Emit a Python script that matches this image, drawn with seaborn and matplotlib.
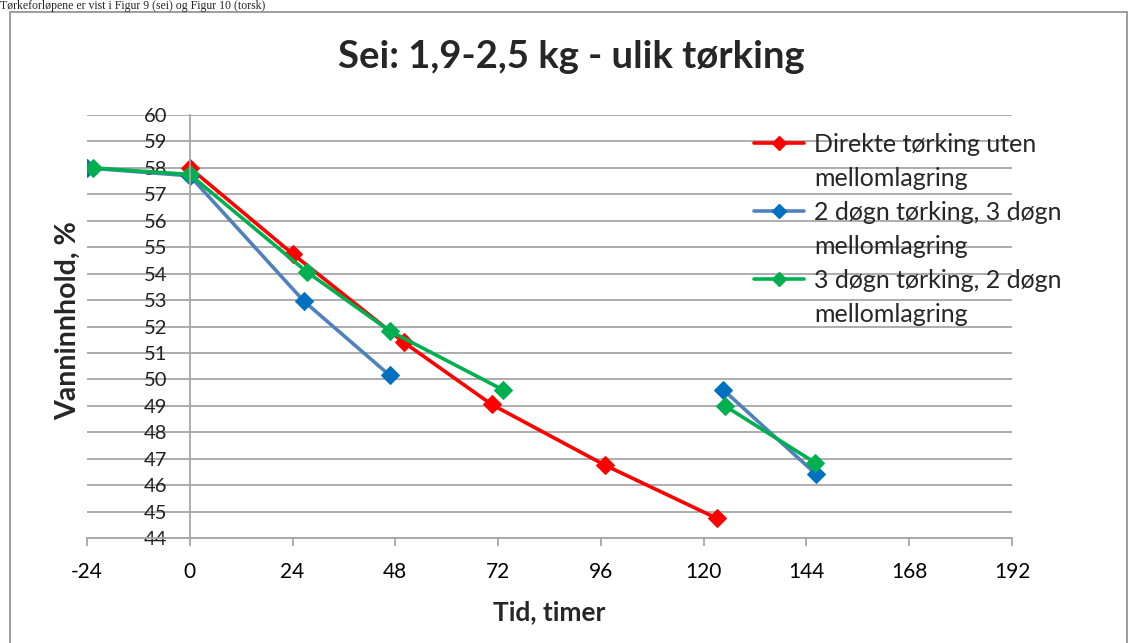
import numpy as np
import pandas as pd
import matplotlib
matplotlib.use('Agg')
import matplotlib.pyplot as plt
from matplotlib.lines import Line2D
from matplotlib.patches import Rectangle
import seaborn as sns

# values (hours, water content %)
red_t = [0, 24, 50, 70.5, 97, 123]
red_v = [58.0, 54.75, 51.4, 49.05, 46.75, 44.75]
red_seg = [0, 0, 0, 0, 0, 0]

blue_t = [-24, 0, 26.7, 46.7, 124.6, 146.2]
blue_v = [58.0, 57.7, 52.95, 50.15, 49.6, 46.42]
blue_seg = [0, 0, 0, 0, 1, 1]

green_t = [-22.5, 0, 27.3, 46.7, 73.2, 124.9, 146]
green_v = [58.0, 57.75, 54.07, 51.83, 49.6, 49.0, 46.85]
green_seg = [0, 0, 0, 0, 0, 1, 1]

series_names = ['Direkte tørking uten\nmellomlagring',
                '2 døgn tørking, 3 døgn\nmellomlagring',
                '3 døgn tørking, 2 døgn\nmellomlagring']
line_colors = ['#FF0000', '#4F81BD', '#00B050']
marker_colors = ['#FF0000', '#0070C0', '#00B050']

x_ticks = [-24, 0, 24, 48, 72, 96, 120, 144, 168, 192]
y_ticks = list(range(44, 61))

sns.set_theme(style='white')
plt.rcParams['font.family'] = ['Lato', 'DejaVu Sans']

frames = []
for name, t, v, s in zip(series_names, [red_t, blue_t, green_t],
                         [red_v, blue_v, green_v], [red_seg, blue_seg, green_seg]):
    frames.append(pd.DataFrame({'serie': name, 'tid': t, 'vann': v, 'seg': s}))
df = pd.concat(frames, ignore_index=True)

fig = plt.figure(figsize=(11.3, 6.43), dpi=100)
ax = fig.add_axes([87 / 1130, 1 - 538 / 643, (1012 - 87) / 1130, (538 - 115) / 643])

for name, lc, mc in zip(series_names, line_colors, marker_colors):
    sub = df[df['serie'] == name]
    for seg, part in sub.groupby('seg'):
        sns.lineplot(data=part, x='tid', y='vann', ax=ax, color=lc, lw=2.6,
                     marker='D', markersize=9, markerfacecolor=mc,
                     markeredgecolor=mc, estimator=None, sort=False, legend=False)

ax.set_xlim(-24, 192)
ax.set_ylim(44, 60)
ax.set_xticks(x_ticks)
ax.set_xticklabels([str(x) for x in x_ticks])
ax.set_yticks(y_ticks)

ax.grid(axis='y', color='#A6A6A6', lw=1.3)
ax.grid(axis='x', visible=False)
ax.set_axisbelow(True)
for side in ['top', 'right']:
    ax.spines[side].set_visible(False)
ax.spines['left'].set_position(('data', 0))
ax.spines['left'].set_color('#A6A6A6')
ax.spines['left'].set_linewidth(1.3)
ax.spines['bottom'].set_color('#A6A6A6')
ax.spines['bottom'].set_linewidth(1.3)
ax.tick_params(axis='x', direction='out', length=6, width=1.3, color='#A6A6A6',
               bottom=True, pad=11, labelsize=15, labelcolor='#000000')
ax.tick_params(axis='y', length=0, pad=16, labelsize=14.5, labelcolor='#222222')

ax.set_xlabel('Tid, timer', fontsize=19, fontweight='bold', labelpad=13)
ax.set_ylabel('')
fig.text(68 / 1130, 1 - 321 / 643, 'Vanninnhold, %', rotation=90, fontsize=20.5,
         fontweight='bold', ha='center', va='center')

fig.text(0.506, 1 - 57 / 643, 'Sei: 1,9-2,5 kg - ulik tørking', fontsize=27.5,
         fontweight='bold', ha='center', va='center')

# legend, one row per text line so the marker sits on the first line
handles = []
labels = []
for name, lc, mc in zip(series_names, line_colors, marker_colors):
    first, second = name.split('\n')
    handles.append(Line2D([], [], color=lc, lw=2.6, marker='D', markersize=7,
                          markerfacecolor=mc, markeredgecolor=mc))
    labels.append(first)
    handles.append(Line2D([], [], linestyle='none'))
    labels.append(second)
fig.legend(handles, labels, loc='upper left', bbox_to_anchor=(754 / 1130, 1 - 133 / 643),
           frameon=False, fontsize=18, handlelength=2.0, handletextpad=0.4,
           labelspacing=0.44, borderaxespad=0, borderpad=0)

# frame of the embedded chart and the document line above it
fig.add_artist(Rectangle((10 / 1130, -0.05), (1127 - 10) / 1130, 1.05 - 12 / 643,
                         transform=fig.transFigure, fill=False, edgecolor='#8C8C8C', lw=1.2))
fig.text(0.0, 1.0, 'Tørkeforløpene er vist i Figur 9 (sei) og Figur 10 (torsk)',
         family='Liberation Serif', fontsize=8.5, ha='left', va='top')

fig.savefig('out.png', dpi=100)
